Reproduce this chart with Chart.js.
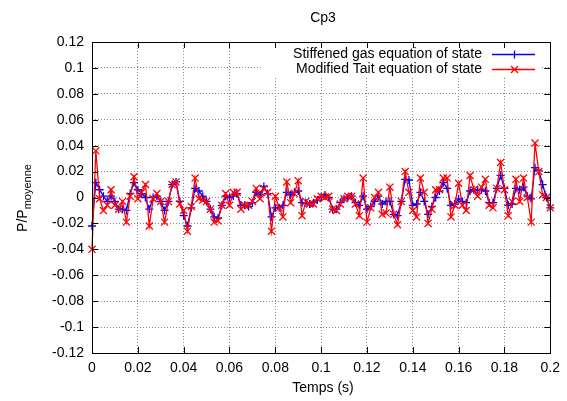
<!DOCTYPE html>
<html lang="fr">
<head>
    <meta charset="UTF-8">
    <title>Cp3</title>
    <script src="https://cdn.jsdelivr.net/npm/chart.js"></script>
    <style>
        body { margin: 0; background: #fff; }
        #cp3 { display: block; }
    </style>
</head>
<body>
    <canvas id="cp3" width="567" height="401"></canvas>

    <script>
        // time samples (s)
        const times = [
            0, 0.00167, 0.00333, 0.005, 0.00667, 0.00833,
            0.01, 0.01167, 0.01333, 0.015, 0.01667, 0.01833,
            0.02, 0.02167, 0.02333, 0.025, 0.02667, 0.02833,
            0.03, 0.03167, 0.03333, 0.035, 0.03667, 0.03833,
            0.04, 0.04167, 0.04333, 0.045, 0.04667, 0.04833,
            0.05, 0.05167, 0.05333, 0.055, 0.05667, 0.05833,
            0.06, 0.06167, 0.06333, 0.065, 0.06667, 0.06833,
            0.07, 0.07167, 0.07333, 0.075, 0.07667, 0.07833,
            0.08, 0.08167, 0.08333, 0.085, 0.08667, 0.08833,
            0.09, 0.09167, 0.09333, 0.095, 0.09667, 0.09833,
            0.1, 0.10167, 0.10333, 0.105, 0.10667, 0.10833,
            0.11, 0.11167, 0.11333, 0.115, 0.11667, 0.11833,
            0.12, 0.12167, 0.12333, 0.125, 0.12667, 0.12833,
            0.13, 0.13167, 0.13333, 0.135, 0.13667, 0.13833,
            0.14, 0.14167, 0.14333, 0.145, 0.14667, 0.14833,
            0.15, 0.15167, 0.15333, 0.155, 0.15667, 0.15833,
            0.16, 0.16167, 0.16333, 0.165, 0.16667, 0.16833,
            0.17, 0.17167, 0.17333, 0.175, 0.17667, 0.17833,
            0.18, 0.18167, 0.18333, 0.185, 0.18667, 0.18833,
            0.19, 0.19167, 0.19333, 0.195, 0.19667, 0.19833,
            0.2
        ];

        // P/P_moyenne, stiffened gas EOS
        const stiffened = [
            -0.022, 0.0115, 0.006, 0.001, -0.003, 0.001,
            -0.003, -0.009, -0.009, -0.010, 0.003, 0.0115,
            0.006, 0.003, 0.000, -0.009, 0.000, 0.001,
            -0.003, -0.010, -0.003, 0.010, 0.012, -0.003,
            -0.014, -0.022, -0.008, 0.007, 0.005, 0.001,
            -0.003, -0.009, -0.015, -0.016, -0.006, 0.001,
            0.000, 0.001, 0.003, -0.006, -0.006, -0.007,
            -0.004, 0.004, 0.002, 0.0085, 0.003, -0.015,
            -0.008, -0.008, -0.006, 0.004, 0.002, 0.004,
            0.005, -0.004, -0.004, -0.005, -0.004, -0.002,
            0.0005, 0.002, 0.000, -0.009, -0.009, -0.004,
            -0.001, 0.000, 0.001, -0.004, -0.006, 0.001,
            -0.009, -0.007, -0.003, 0.001, -0.005, -0.003,
            -0.003, -0.013, -0.014, -0.003, 0.014, 0.0135,
            -0.006, -0.005, 0.004, -0.003, -0.013, -0.007,
            0.000, 0.005, 0.0115, 0.007, -0.006, -0.005,
            -0.001, -0.003, -0.004, 0.005, 0.006, 0.006,
            0.006, 0.005, -0.004, -0.004, 0.007, 0.017,
            0.007, -0.006, -0.005, 0.007, 0.006, 0.008,
            0.001, -0.001, 0.023, 0.0205, 0.010, 0.000,
            -0.008
        ];

        // P/P_moyenne, modified Tait EOS
        const tait = [
            -0.040, 0.036, -0.001, -0.010, -0.006, 0.006,
            -0.006, -0.009, -0.003, -0.019, 0.001, 0.016,
            -0.001, 0.004, 0.010, -0.022, -0.001, 0.003,
            -0.003, -0.019, -0.003, 0.010, 0.012, -0.005,
            -0.010, -0.026, -0.007, 0.015, -0.001, -0.002,
            -0.003, -0.009, -0.019, -0.018, -0.006, 0.003,
            -0.006, 0.004, 0.004, -0.009, -0.006, -0.006,
            -0.003, 0.007, -0.001, 0.007, 0.004, -0.026,
            0.001, -0.008, -0.015, 0.012, -0.004, 0.003,
            0.013, -0.014, -0.003, -0.005, -0.005, -0.001,
            0.001, 0.000, 0.001, -0.009, -0.010, -0.005,
            -0.001, 0.001, 0.001, -0.005, -0.014, 0.015,
            -0.019, -0.008, 0.000, 0.004, -0.013, -0.012,
            0.008, -0.013, -0.021, -0.003, 0.020, 0.004,
            -0.010, -0.015, 0.015, 0.004, -0.020, -0.009,
            0.006, 0.006, 0.015, 0.015, -0.015, -0.006,
            0.011, -0.006, -0.010, 0.017, 0.006, 0.001,
            0.008, 0.014, -0.006, -0.008, 0.007, 0.027,
            0.006, -0.014, -0.003, 0.014, -0.003, 0.015,
            0.000, -0.019, 0.042, 0.020, 0.002, 0.000,
            -0.008
        ];

        const xTicks = [0, 0.02, 0.04, 0.06, 0.08, 0.1, 0.12, 0.14, 0.16, 0.18, 0.2];
        const yTicks = [-0.12, -0.1, -0.08, -0.06, -0.04, -0.02, 0, 0.02, 0.04, 0.06, 0.08, 0.1, 0.12];
        const seriesNames = ['Stiffened gas equation of state', 'Modified Tait equation of state'];
        const seriesColors = ['#0000ff', '#ff0000'];

        const FONT = '"Liberation Sans", Arial, sans-serif';
        Chart.defaults.font.family = FONT;
        Chart.defaults.font.size = 14;
        Chart.defaults.color = '#000';

        const fmt = v => String(+v.toFixed(2));

        // gnuplot-like frame, inward ticks, titles and legend
        const gnuplotLook = {
            id: 'gnuplotLook',
            beforeDraw(chart) {
                const c = chart.ctx;
                c.save();
                c.fillStyle = '#fff';
                c.fillRect(0, 0, chart.width, chart.height);
                c.restore();
            },
            afterDraw(chart) {
                const c = chart.ctx;
                const a = chart.chartArea;
                const xs = chart.scales.x, ys = chart.scales.y;
                c.save();
                c.setLineDash([]);

                // legend (white box over the grid)
                c.fillStyle = '#fff';
                c.fillRect(262, a.top + 1, 280, 34);
                const rows = [54, 69];
                c.font = '14px ' + FONT;
                c.textAlign = 'right';
                c.textBaseline = 'middle';
                c.lineWidth = 1.3;
                rows.forEach((y, i) => {
                    c.fillStyle = '#000';
                    c.fillText(seriesNames[i], 482, y);
                    c.strokeStyle = seriesColors[i];
                    c.beginPath();
                    c.moveTo(492, y + 0.5); c.lineTo(535, y + 0.5);
                    if (i === 0) {
                        c.moveTo(510, y + 0.5); c.lineTo(518, y + 0.5);
                        c.moveTo(514.5, y - 3.5); c.lineTo(514.5, y + 4.5);
                    } else {
                        c.moveTo(511, y - 3); c.lineTo(518, y + 4);
                        c.moveTo(511, y + 4); c.lineTo(518, y - 3);
                    }
                    c.stroke();
                });

                // border
                c.strokeStyle = '#000';
                c.lineWidth = 1;
                c.strokeRect(Math.round(a.left) + 0.5, Math.round(a.top) + 0.5,
                    Math.round(a.right - a.left), Math.round(a.bottom - a.top));

                // inward tick marks on all four sides
                const tl = 6;
                c.beginPath();
                xTicks.forEach(v => {
                    const px = Math.round(xs.getPixelForValue(v)) + 0.5;
                    c.moveTo(px, a.bottom); c.lineTo(px, a.bottom - tl);
                    c.moveTo(px, a.top); c.lineTo(px, a.top + tl);
                });
                yTicks.forEach(v => {
                    const py = Math.round(ys.getPixelForValue(v)) + 0.5;
                    c.moveTo(a.left, py); c.lineTo(a.left + tl, py);
                    c.moveTo(a.right, py); c.lineTo(a.right - tl, py);
                });
                c.stroke();

                // titles
                c.fillStyle = '#000';
                c.textAlign = 'center';
                c.textBaseline = 'middle';
                c.font = '14px ' + FONT;
                c.fillText('Cp3', 323, 18);
                c.fillText('Temps (s)', 323, 388);

                // y title with subscript
                c.translate(27, 198);
                c.rotate(-Math.PI / 2);
                c.textAlign = 'left';
                c.textBaseline = 'alphabetic';
                c.font = '14px ' + FONT;
                const w1 = c.measureText('P/P').width;
                c.font = '11px ' + FONT;
                const w2 = c.measureText('moyenne').width;
                const x0 = -(w1 + w2) / 2;
                c.font = '14px ' + FONT;
                c.fillText('P/P', x0, 0);
                c.font = '11px ' + FONT;
                c.fillText('moyenne', x0 + w1, 4);
                c.restore();
            }
        };

        const ctx = document.getElementById('cp3').getContext('2d');

        const cp3Chart = new Chart(ctx, {
            type: 'line',
            data: {
                datasets: [{
                    label: seriesNames[0],
                    data: times.map((t, i) => ({ x: t, y: stiffened[i] })),
                    borderColor: seriesColors[0],
                    backgroundColor: seriesColors[0],
                    borderWidth: 1.3,
                    pointStyle: 'cross',
                    pointRadius: 4,
                    pointBorderWidth: 1.3,
                    tension: 0,
                    clip: false,
                    order: 1
                }, {
                    label: seriesNames[1],
                    data: times.map((t, i) => ({ x: t, y: tait[i] })),
                    borderColor: seriesColors[1],
                    backgroundColor: seriesColors[1],
                    borderWidth: 1.3,
                    pointStyle: 'crossRot',
                    pointRadius: 5,
                    pointBorderWidth: 1.3,
                    tension: 0,
                    clip: false,
                    order: 0
                }]
            },
            options: {
                responsive: false,
                animation: false,
                devicePixelRatio: 1,
                layout: { padding: { left: 0, top: 42, right: 12, bottom: 0 } },
                plugins: {
                    legend: { display: false },
                    title: { display: false },
                    tooltip: { enabled: false }
                },
                scales: {
                    x: {
                        type: 'linear',
                        min: 0,
                        max: 0.2,
                        afterBuildTicks: s => { s.ticks = xTicks.map(v => ({ value: v })); },
                        afterFit: s => { s.height = 48; },
                        ticks: {
                            autoSkip: false,
                            maxRotation: 0,
                            padding: 7,
                            callback: v => fmt(v)
                        },
                        grid: { color: '#888', lineWidth: 1, drawTicks: false },
                        border: { display: false, dash: [1, 2] }
                    },
                    y: {
                        min: -0.12,
                        max: 0.12,
                        afterBuildTicks: s => { s.ticks = yTicks.map(v => ({ value: v })); },
                        afterFit: s => { s.width = 92; },
                        ticks: {
                            autoSkip: false,
                            padding: 8,
                            callback: v => fmt(v)
                        },
                        grid: { color: '#888', lineWidth: 1, drawTicks: false },
                        border: { display: false, dash: [1, 2] }
                    }
                }
            },
            plugins: [gnuplotLook]
        });
    </script>
</body>
</html>
